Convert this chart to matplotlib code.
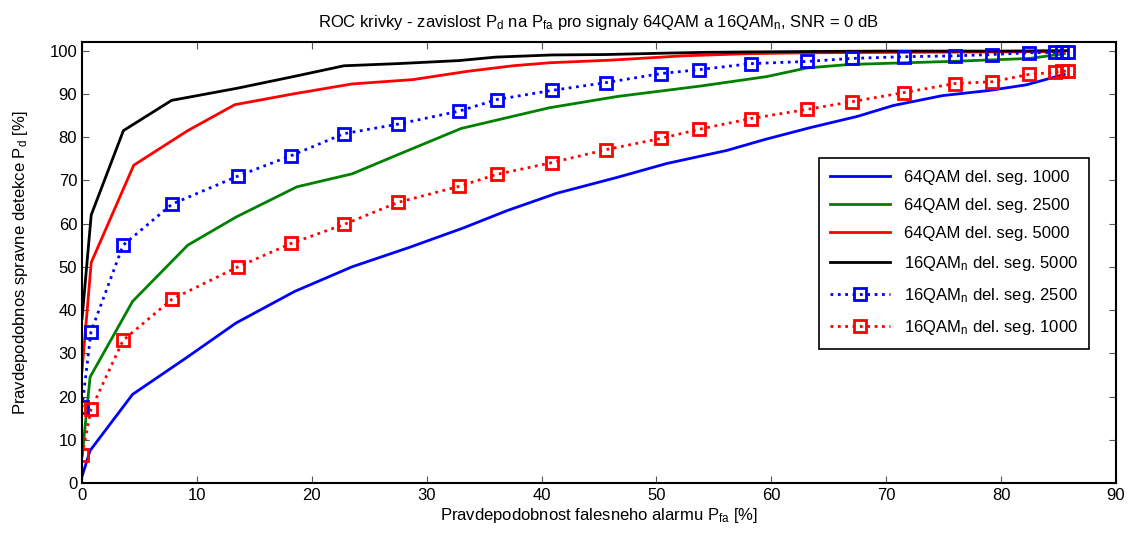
import matplotlib.pyplot as plt

plt.rcParams['font.family'] = ['Liberation Sans', 'DejaVu Sans']
plt.rcParams['mathtext.fontset'] = 'custom'
plt.rcParams['mathtext.rm'] = 'Liberation Sans'
plt.rcParams['mathtext.it'] = 'Liberation Sans'

# 64QAM del. seg. 1000
x_64_1000 = [0, 0.7, 4.4, 9.1, 13.4, 18.5, 23.5, 28.5, 33.2, 37.0, 41.3, 46.6, 50.9,
             56.1, 59.5, 63.4, 67.5, 70.6, 74.9, 79.0, 82.2, 85.5]
y_64_1000 = [1.5, 7.5, 20.5, 29, 37, 44.3, 50, 54.5, 59, 63, 67, 70.7, 73.9,
             76.9, 79.5, 82.2, 84.8, 87.3, 89.6, 90.8, 92.1, 94.5]

# 64QAM del. seg. 2500
x_64_2500 = [0, 0.7, 4.4, 9.2, 13.4, 18.7, 23.5, 28, 33, 37, 40.7, 46.6, 53.8,
             59.6, 63.1, 66.8, 75.5, 82.5, 85.5]
y_64_2500 = [6, 24.5, 42, 55, 61.5, 68.5, 71.5, 76.5, 82, 84.5, 86.8, 89.4, 91.8,
             94, 96, 96.8, 97.5, 98.2, 99.3]

# 64QAM del. seg. 5000
x_64_5000 = [0, 0.8, 4.5, 9.2, 13.3, 18.4, 23.5, 28.8, 33.5, 37.5, 40.7, 46, 52.3,
             58, 63, 70, 80, 85.5]
y_64_5000 = [26, 51, 73.5, 81.5, 87.5, 90, 92.3, 93.3, 95.2, 96.5, 97.2, 97.8, 98.8,
             99.3, 99.5, 99.6, 99.7, 99.8]

# 16QAMn del. seg. 5000
x_16_5000 = [0, 0.8, 3.6, 7.8, 13.5, 18.4, 22.8, 27.5, 32.8, 36, 40.9, 45.6, 50.4,
             54, 58, 63, 70, 80, 85.8]
y_16_5000 = [38, 62, 81.5, 88.5, 91.3, 94, 96.5, 97, 97.7, 98.5, 99, 99.1, 99.4,
             99.6, 99.7, 99.8, 99.9, 99.9, 100]

# 16QAMn, marked series (common Pfa grid)
x_16 = [0, 0.78, 3.57, 7.83, 13.58, 18.19, 22.80, 27.50, 32.81, 36.12, 40.90, 45.60,
        50.39, 53.70, 58.22, 63.10, 67.01, 71.54, 75.98, 79.20, 82.42, 84.68, 85.30, 85.80]
y_16_2500 = [17.5, 35, 55, 64.5, 71, 75.7, 80.8, 83, 86, 88.7, 90.8, 92.6,
             94.7, 95.6, 97, 97.5, 98.2, 98.6, 98.8, 99.1, 99.5, 99.6, 99.7, 99.8]
y_16_1000 = [6.5, 17, 33, 42.5, 50, 55.4, 59.8, 64.9, 68.6, 71.4, 74.1, 77.1,
             79.7, 81.8, 84.3, 86.4, 88.2, 90.3, 92.4, 92.8, 94.5, 95.0, 95.2, 95.3]

fig = plt.figure(figsize=(11.33, 5.35), dpi=100)
ax = fig.add_axes([0.0724, 0.0972, 0.9126, 0.8243])

ax.plot(x_64_1000, y_64_1000, color=(0, 0, 1), lw=2, label='64QAM del. seg. 1000')
ax.plot(x_64_2500, y_64_2500, color=(0, 0.5, 0), lw=2, label='64QAM del. seg. 2500')
ax.plot(x_64_5000, y_64_5000, color=(1, 0, 0), lw=2, label='64QAM del. seg. 5000')
ax.plot(x_16_5000, y_16_5000, color='black', lw=2, label='16QAM$_\\mathrm{n}$ del. seg. 5000')
ax.plot(x_16, y_16_2500, color=(0, 0, 1), lw=2, ls=':', marker='s', ms=9, mfc='none',
        mew=2, label='16QAM$_\\mathrm{n}$ del. seg. 2500')
ax.plot(x_16, y_16_1000, color=(1, 0, 0), lw=2, ls=':', marker='s', ms=9, mfc='none',
        mew=2, label='16QAM$_\\mathrm{n}$ del. seg. 1000')

ax.set_xlim(0, 90)
ax.set_ylim(0, 102)
ax.set_xticks(range(0, 91, 10))
ax.set_yticks(range(0, 101, 10))
ax.tick_params(direction='in', top=True, right=True, labelsize=12, length=5,
               color='#555555', labelcolor='black')
for s in ax.spines.values():
    s.set_linewidth(1.5)

ax.set_title('ROC krivky - zavislost P$_\\mathrm{d}$ na P$_\\mathrm{fa}$ pro signaly '
             '64QAM a 16QAM$_\\mathrm{n}$, SNR = 0 dB', fontsize=12, pad=11)
ax.set_xlabel('Pravdepodobnost falesneho alarmu P$_\\mathrm{fa}$ [%]', fontsize=12,
              labelpad=2)
ax.set_ylabel('Pravdepodobnos spravne detekce P$_\\mathrm{d}$ [%]', fontsize=12,
              labelpad=14)

leg = ax.legend(loc='upper right', bbox_to_anchor=(0.982, 0.755), fontsize=12,
                fancybox=False, edgecolor='black', framealpha=1, handlelength=3.6,
                labelspacing=0.78, borderpad=0.7)
leg.get_frame().set_linewidth(1.2)

fig.savefig('out.png', dpi=100)
